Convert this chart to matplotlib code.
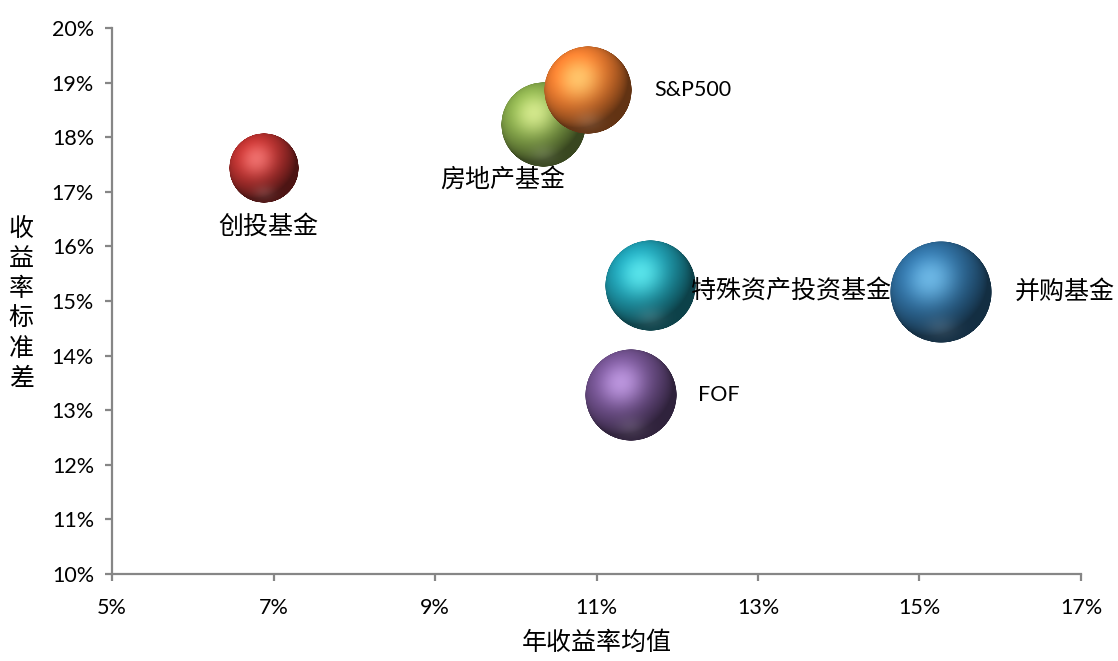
import numpy as np
import matplotlib
matplotlib.use("Agg")
import matplotlib.pyplot as plt
from matplotlib.offsetbox import OffsetImage, AnnotationBbox
from matplotlib.ticker import FuncFormatter, MultipleLocator
from matplotlib.colors import to_rgb

# 数据
names = ["创投基金", "房地产基金", "S&P500", "特殊资产投资基金", "FOF", "并购基金"]
ret_mean = [6.88, 10.34, 10.89, 11.66, 11.43, 15.27]     # 年收益率均值 %
ret_std = [17.43, 18.22, 18.86, 15.27, 13.28, 15.17]     # 收益率标准差 %
bubble = [47, 68, 73, 78, 81, 100]                        # 气泡大小
x_ticks = [5, 7, 9, 11, 13, 15, 17]

colors = ["#B8312F", "#86A84A", "#EB7A2E", "#1E9BAE", "#72528F", "#2F6E9F"]
# 标签偏移 (points) 与对齐方式
label_off = [(3, -42), (-29, -39), (48, 0), (30, -4), (48, 0), (53, 0)]
label_ha = ["center", "center", "left", "left", "left", "left"]

CJK = ["Noto Sans CJK SC", "DejaVu Sans"]
LAT = ["Lato", "DejaVu Sans"]
DPI = 100
MAX_D = 102  # 最大气泡直径 (px)


def sphere(rgb, n=240):
    v, u = np.mgrid[-1:1:n * 1j, -1:1:n * 1j]
    r2 = u ** 2 + v ** 2
    z = np.sqrt(np.clip(1 - r2, 0, 1))
    L = np.array([-0.4, -0.5, 0.77])
    L = L / np.linalg.norm(L)
    diff = np.clip(u * L[0] + v * L[1] + z * L[2], 0, 1)
    H = L + np.array([0, 0, 1.0])
    H = H / np.linalg.norm(H)
    spec = np.clip(u * H[0] + v * H[1] + z * H[2], 0, 1) ** 10
    refl = np.exp(-((v - 0.7) ** 2 + (u * 0.7) ** 2) / 0.05) * 0.12
    base = np.array(rgb)
    light = np.clip(base * 1.5 + 0.15, 0, 1)   # 带颜色的高光
    shade = 0.42 + 0.72 * diff
    col = base[None, None, :] * shade[..., None]
    col = col + (light - col) * (spec * 0.6)[..., None]
    col = col + (1 - col) * (spec * 0.12 + refl)[..., None]
    col = np.clip(col, 0, 1)
    alpha = np.clip((1 - np.sqrt(r2)) * n / 2, 0, 1)
    return np.dstack([col, alpha])


fig = plt.figure(figsize=(11.18, 6.61), dpi=DPI)
ax = fig.add_axes([0.1002, 0.1316, 0.8667, 0.826])

ax.set_xlim(5, 17)
ax.set_ylim(10, 20)
ax.set_xticks(x_ticks)
ax.yaxis.set_major_locator(MultipleLocator(1))
pct = FuncFormatter(lambda v, p: f"{v:.0f}%")
ax.xaxis.set_major_formatter(pct)
ax.yaxis.set_major_formatter(pct)

for s in ["top", "right"]:
    ax.spines[s].set_visible(False)
for s in ["left", "bottom"]:
    ax.spines[s].set_color("#868686")
    ax.spines[s].set_linewidth(1.6)
ax.tick_params(axis="both", direction="out", length=5, width=1.6, color="#868686",
               labelsize=15.5, labelcolor="black")
ax.tick_params(axis="x", pad=12)
ax.tick_params(axis="y", pad=8)
for lab in ax.get_xticklabels() + ax.get_yticklabels():
    lab.set_family(LAT)

n = 240
for i, (x, y, b, c) in enumerate(zip(ret_mean, ret_std, bubble, colors)):
    d = MAX_D * np.sqrt(b / max(bubble))
    img = sphere(to_rgb(c), n)
    oi = OffsetImage(img, zoom=d * 72 / DPI / n, interpolation="antialiased")
    ab = AnnotationBbox(oi, (x, y), xycoords="data", frameon=False, pad=0,
                        zorder=3 + i)
    ax.add_artist(ab)
    lab = names[i]
    fam = LAT if lab in ("S&P500", "FOF") else CJK
    fs = 15.5 if lab in ("S&P500", "FOF") else 18
    ax.annotate(lab, (x, y), xycoords="data", textcoords="offset points",
                xytext=label_off[i], ha=label_ha[i], va="center",
                fontsize=fs, family=fam, color="black", zorder=3.5 + i)

fig.text(0.019, 0.540, "收\n益\n率\n标\n准\n差", ha="center", va="center",
         fontsize=18, family=CJK, linespacing=1.2)
fig.text(0.534, 0.027, "年收益率均值", ha="center", va="center",
         fontsize=18, family=CJK)

fig.savefig("out.png", dpi=DPI)
